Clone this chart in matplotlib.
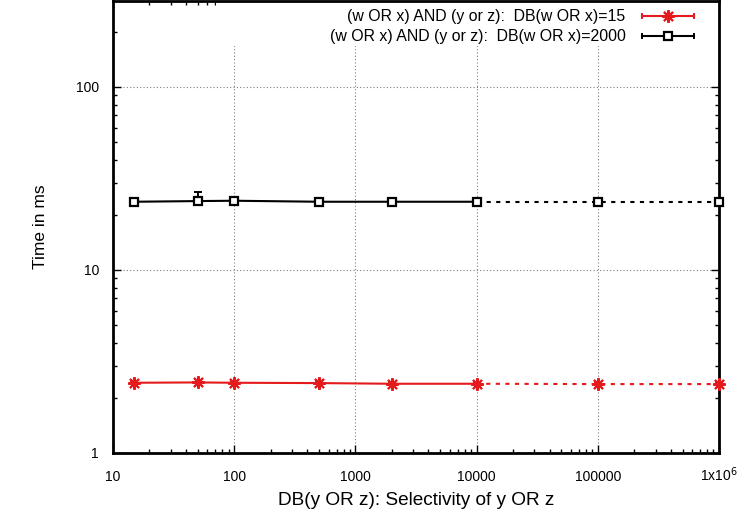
import matplotlib
matplotlib.use("Agg")
import matplotlib.pyplot as plt
from matplotlib.lines import Line2D
from matplotlib.patches import Rectangle
from matplotlib.legend_handler import HandlerLine2D, HandlerTuple
from matplotlib.ticker import FixedLocator, LogLocator, NullFormatter

plt.rcParams['font.family'] = ['Liberation Sans', 'DejaVu Sans']

# Data
sel = [15, 50, 100, 500, 2000, 10000, 100000, 1000000]
t_db15 = [2.42, 2.43, 2.42, 2.41, 2.39, 2.39, 2.38, 2.38]
t_db15_err = [0.02, 0.02, 0.02, 0.02, 0.02, 0.02, 0.02, 0.02]
t_db2000 = [23.6, 23.8, 23.9, 23.6, 23.6, 23.6, 23.6, 23.6]
t_db2000_err_lo = [0.2, 0.3, 0.2, 0.2, 0.2, 0.2, 0.2, 0.2]
t_db2000_err_hi = [0.2, 2.8, 0.2, 0.2, 0.2, 0.2, 0.2, 0.2]
n_solid = 6
labels = ["(w OR x) AND (y or z):  DB(w OR x)=15",
          "(w OR x) AND (y or z):  DB(w OR x)=2000"]
xticks = [10, 100, 1000, 10000, 100000, 1000000]
xticklabels = ["10", "100", "1000", "10000", "100000", "1x10$^6$"]
yticks = [1, 10, 100]
yticklabels = ["1", "10", "100"]

RED = '#e41a1c'
BLACK = '#000000'
star = (8, 2, 0)

fig = plt.figure(figsize=(7.41, 5.16), dpi=100)
ax = fig.add_axes([113/741, 1-453/516, (719-113)/741, (453-1)/516])
ax.set_xscale('log')
ax.set_yscale('log')

def draw(y, elo, ehi, color, marker, ms, mew, mfc):
    ax.errorbar(sel, y, yerr=[elo, ehi], fmt='none', ecolor=color,
                elinewidth=1.4, capsize=3, capthick=1.4, zorder=3)
    ax.plot(sel[:n_solid], y[:n_solid], '-', color=color, lw=1.5, zorder=3)
    ax.plot(sel[n_solid-1:], y[n_solid-1:], '--', color=color, lw=1.5,
            dashes=(2.0, 2.6), zorder=3)
    ax.plot(sel, y, ls='none', marker=marker, ms=ms, mec=color,
            mfc=mfc, mew=mew, color=color, zorder=4, clip_on=False)

draw(t_db15, t_db15_err, t_db15_err, RED, star, 9, 1.5, RED)
draw(t_db2000, t_db2000_err_lo, t_db2000_err_hi, BLACK, 's', 5.8, 1.6, 'white')

ax.set_xlim(10, 1000000)
ax.set_ylim(1, 295)
ax.xaxis.set_major_locator(FixedLocator(xticks))
ax.set_xticklabels(xticklabels)
ax.yaxis.set_major_locator(FixedLocator(yticks))
ax.set_yticklabels(yticklabels)
ax.xaxis.set_minor_locator(LogLocator(base=10, subs=range(2, 10), numticks=20))
ax.yaxis.set_minor_locator(LogLocator(base=10, subs=range(2, 10), numticks=20))
ax.xaxis.set_minor_formatter(NullFormatter())
ax.yaxis.set_minor_formatter(NullFormatter())
ax.tick_params(which='both', direction='in', top=True, right=True, width=1.0)
ax.tick_params(which='major', length=6, labelsize=10)
ax.tick_params(which='minor', length=3)
ax.tick_params(axis='x', pad=20)
ax.tick_params(axis='y', pad=10)
for lab in ax.get_xticklabels():
    lab.set_verticalalignment('baseline')
for s in ax.spines.values():
    s.set_linewidth(2.0)

ax.grid(True, which='major', ls=(0, (1, 2)), color='#808080', lw=0.8)
ax.set_axisbelow(True)
ax.add_patch(Rectangle((0.17, 1 - 45/452), 0.83, 45/452, transform=ax.transAxes,
                       facecolor='white', edgecolor='none', zorder=1))

ax.set_xlabel("DB(y OR z): Selectivity of y OR z", fontsize=13.7, labelpad=6)
ax.set_ylabel("Time in ms", fontsize=12.5, labelpad=20)

cap_r = Line2D([], [], color=RED, marker='|', ms=5, mew=1.4, lw=1.5)
mk_r = Line2D([], [], color=RED, marker=star, ms=9, mew=1.5, ls='none')
cap_b = Line2D([], [], color=BLACK, marker='|', ms=5, mew=1.4, lw=1.5)
mk_b = Line2D([], [], color=BLACK, marker='s', ms=5.8, mew=1.6, mfc='white', ls='none')
leg = ax.legend([(cap_r, mk_r), (cap_b, mk_b)], labels,
                handler_map={cap_r: HandlerLine2D(numpoints=2),
                             cap_b: HandlerLine2D(numpoints=2),
                             tuple: HandlerTuple(ndivide=1, pad=0)},
                loc='upper right', bbox_to_anchor=(0.975, 0.992),
                borderaxespad=0, markerfirst=False, frameon=False,
                fontsize=11.4, handlelength=3.9, handletextpad=0.75,
                labelspacing=0.3, borderpad=0.3)
leg.set_zorder(5)

fig.savefig('out.png', dpi=100)
